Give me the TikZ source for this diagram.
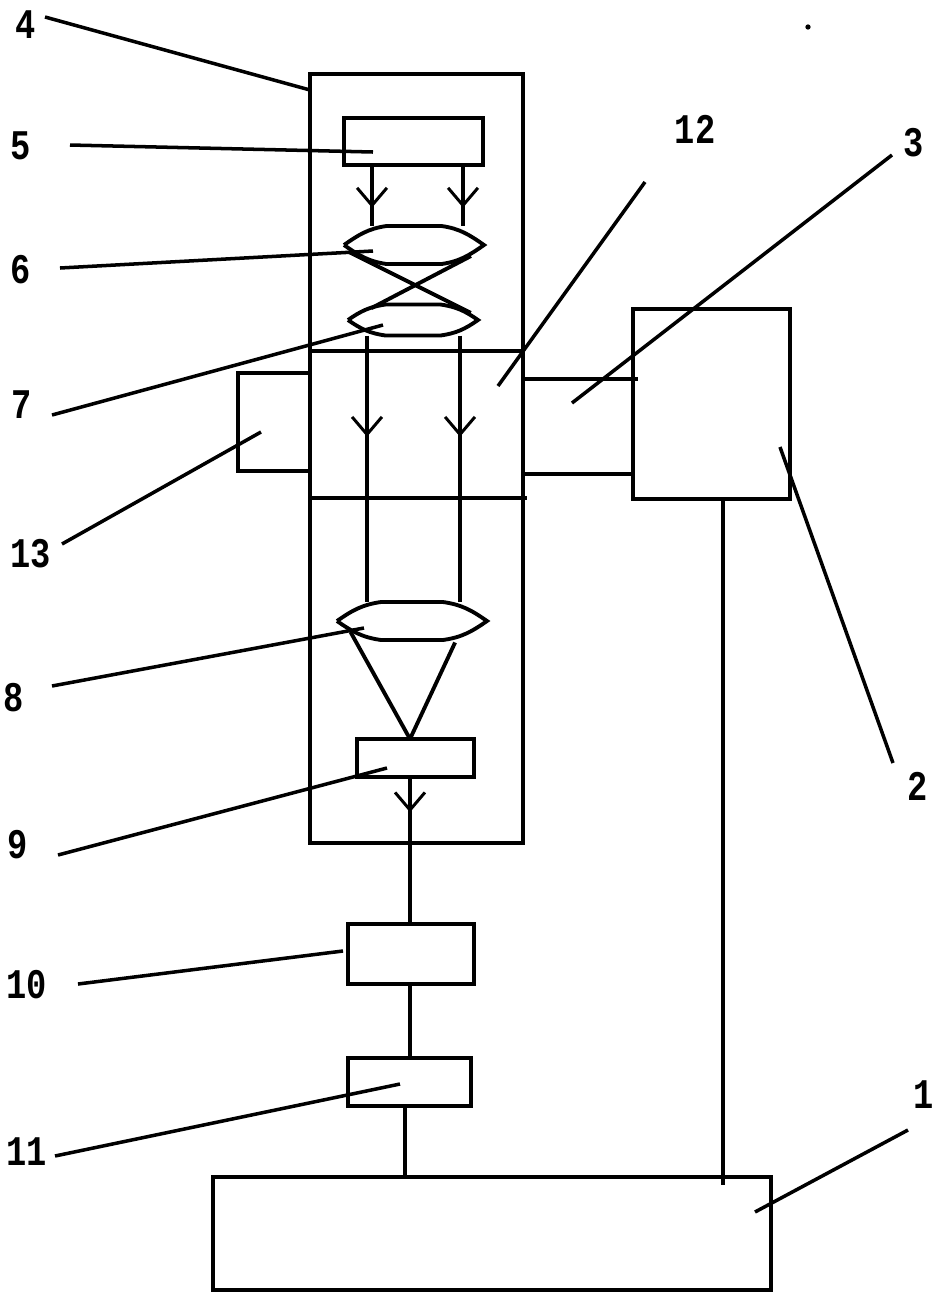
\documentclass[tikz,border=0pt]{standalone}
\usepackage{fontspec}
\newfontfamily\numfont[FakeStretch=0.8]{Liberation Mono}
\usetikzlibrary{arrows.meta,decorations.markings,shapes.geometric}

\tikzset{
  line/.style={line width=2.2pt},
  box/.style={draw, line width=2.2pt, rectangle, outer sep=0pt, inner sep=0pt},
  lens/.style={ellipse, outer sep=0pt, inner sep=0pt},
  num/.style={inner sep=0pt, font=\numfont\bfseries\fontsize{24}{24}\selectfont},
  lead/.style={line width=2pt},
  ray/.style={line width=2.2pt, postaction={decorate}, decoration={markings,
      mark=at position #1 with {\arrow{Straight Barb[length=10pt,width=17pt,line width=1.7pt]}}}}
}

% lens body: pointed ends, flat middle
\newcommand{\lensat}[5]{
  \node[lens, minimum width=#3cm, minimum height=#4cm] (#1) at (#2) {};
  \draw[line] (#1.west) to[out=35,in=188] ([xshift=-#5cm]#1.north) -- ([xshift=#5cm]#1.north)
    to[out=-8,in=145] (#1.east) to[out=-145,in=8] ([xshift=#5cm]#1.south)
    -- ([xshift=-#5cm]#1.south) to[out=172,in=-35] (#1.west);
}

\begin{document}
\begin{tikzpicture}[x=0.02cm, y=-0.02cm]
\useasboundingbox (0,0) rectangle (940,1303);

% boxes
\node[box, minimum width=4.26cm, minimum height=15.38cm] (housing) at (416.5,458.5) {};
\node[box, minimum width=2.78cm, minimum height=0.94cm] (source) at (413.5,141.5) {};
\lensat{lensa}{414,245}{2.8}{0.76}{0.55}
\lensat{lensb}{413,320}{2.6}{0.62}{0.55}
\lensat{lensc}{412,621}{3}{0.76}{0.62}
\node[box, minimum width=2.34cm, minimum height=0.76cm] (sensor) at (415.5,758) {};
\node[box, minimum width=2.52cm, minimum height=1.2cm] (amp) at (411,954) {};
\node[box, minimum width=2.46cm, minimum height=0.96cm] (conv) at (409.5,1082) {};
\node[box, minimum width=11.16cm, minimum height=2.26cm] (host) at (492,1233.5) {};
\node[box, minimum width=3.14cm, minimum height=3.8cm] (driver) at (711.5,404) {};
\node[box, minimum width=1.44cm, minimum height=1.96cm] (holder) at (274,422) {};

% sample band and arm
\coordinate (bandtop) at (523,351);
\coordinate (bandbot) at (527,498);
\coordinate (armtop) at (638,379);
\coordinate (armbot) at (633,474);
\draw[line] (housing.west |- bandtop) -- (bandtop);
\draw[line] (housing.west |- bandbot) -- (bandbot);
\draw[line] (housing.east |- armtop) -- (armtop);
\draw[line] (housing.east |- armbot) -- (armbot);

% rays
\coordinate (rayal) at (372,0);
\coordinate (rayar) at (463,0);
\coordinate (raybl) at (367,0);
\coordinate (raybr) at (460,0);
\draw[ray=0.7] (rayal |- source.south) -- (rayal |- lensa.north);
\draw[ray=0.7] (rayar |- source.south) -- (rayar |- lensa.north);
\draw[line] (lensa.186) -- (lensb.7);
\draw[line] (lensa.-11) -- (lensb.164);
\draw[ray=0.38] (raybl |- lensb.south) -- (raybl |- lensc.north);
\draw[ray=0.38] (raybr |- lensb.south) -- (raybr |- lensc.north);
\coordinate (focus) at (410,0);
\draw[line] (lensc.190) -- (focus |- sensor.north);
\draw[line] ([shift={(6,5)}]lensc.-24) -- (focus |- sensor.north);

% signal path
\draw[ray=0.24] (focus |- sensor.south) -- (focus |- amp.north);
\draw[line] (focus |- amp.south) -- (focus |- conv.north);
\coordinate (linkb) at (405,0);
\draw[line] (linkb |- conv.south) -- (linkb |- host.north);
\coordinate (linka) at (723,1185);
\draw[line] (linka |- driver.south) -- (linka);

% numbers and leaders
\node[num] (n4) at (26,25) {4};
\node[num] (n5) at (21,146) {5};
\node[num] (n6) at (21,270) {6};
\node[num] (n7) at (22,405) {7};
\node[num] (n13) at (31,554) {13};
\node[num] (n8) at (14,698) {8};
\node[num] (n9) at (18,845) {9};
\node[num] (n10) at (27,985) {10};
\node[num] (n11) at (27,1152) {11};
\node[num] (n12) at (695,129) {12};
\node[num] (n3) at (914,143) {3};
\node[num] (n2) at (918,786) {2};
\node[num] (n1) at (924,1095) {1};

\coordinate (t4) at (310,90);
\coordinate (t5) at (373,152);
\coordinate (t6) at (373,251);
\coordinate (t7) at (383,325);
\coordinate (t13) at (261,432);
\coordinate (t8) at (364,628);
\coordinate (t9) at (387,768);
\coordinate (t10) at (343,951);
\coordinate (t11) at (400,1084);
\coordinate (t12) at (498,386);
\coordinate (t3) at (572,403);
\coordinate (t2) at (780,447);
\coordinate (t1) at (755,1212);

\draw[lead] ([shift={(19,-8)}]n4.center) -- (t4);
\draw[lead] ([shift={(49,-1)}]n5.center) -- (t5);
\draw[lead] ([shift={(39,-2)}]n6.center) -- (t6);
\draw[lead] ([shift={(30,10)}]n7.center) -- (t7);
\draw[lead] ([shift={(31,-10)}]n13.center) -- (t13);
\draw[lead] ([shift={(38,-12)}]n8.center) -- (t8);
\draw[lead] ([shift={(40,10)}]n9.center) -- (t9);
\draw[lead] ([shift={(51,-1)}]n10.center) -- (t10);
\draw[lead] ([shift={(28,4)}]n11.center) -- (t11);
\draw[lead] ([shift={(-50,53)}]n12.center) -- (t12);
\draw[lead] ([shift={(-22,12)}]n3.center) -- (t3);
\draw[lead] ([shift={(-25,-23)}]n2.center) -- (t2);
\draw[lead] ([shift={(-16,35)}]n1.center) -- (t1);

\fill (808,27) circle (1.5pt);
\end{tikzpicture}
\end{document}
